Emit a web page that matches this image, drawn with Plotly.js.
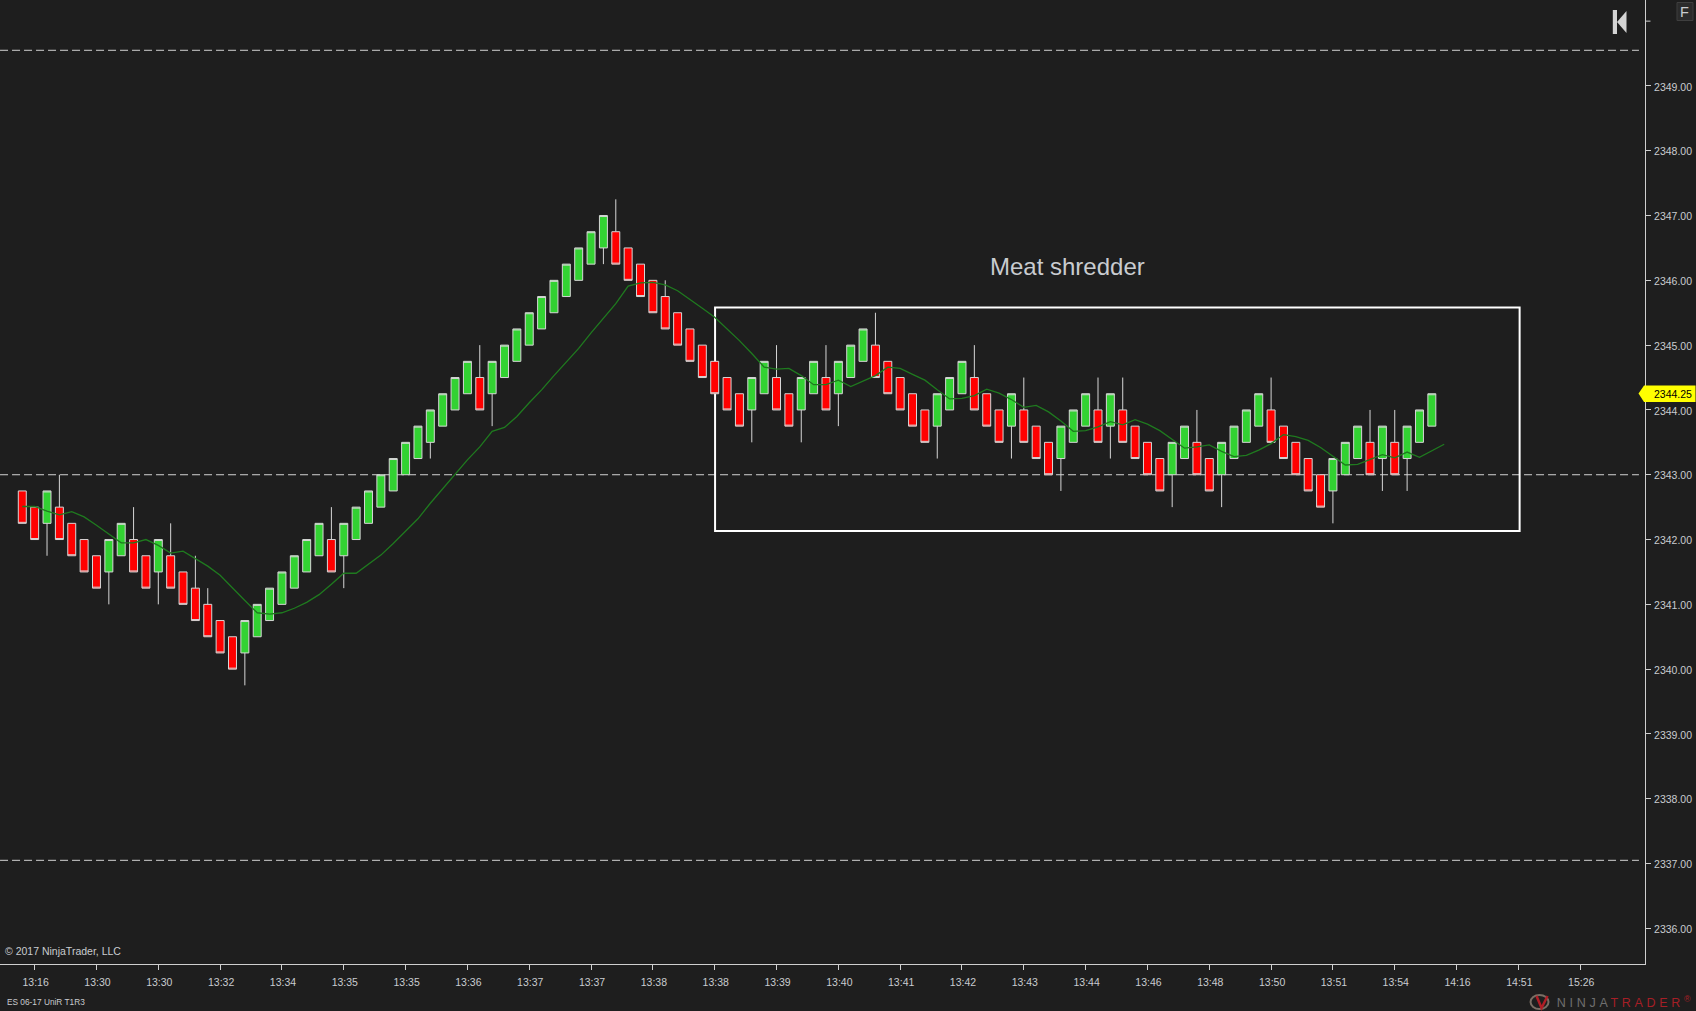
<!DOCTYPE html>
<html>
<head>
<meta charset="utf-8">
<script src="https://cdn.plot.ly/plotly-3.0.1.min.js"></script>
<style>
html,body{margin:0;padding:0;background:#1e1e1e;overflow:hidden}
#chart{width:1696px;height:1011px}
.annotation[data-index="2"] text{letter-spacing:3.7px}
</style>
</head>
<body>
<div id="chart"></div>
<script>
const barIndex = Array.from({length:115},(_, i)=>i);
const open = [
2342.75,2342.5,2342.25,2342.5,2342.25,2342,2341.75,2341.5,2341.75,2342,2341.75,2341.5,2341.75,2341.5,2341.25,2341,2340.75,2340.5,2340.25,2340.5,
2340.75,2341,2341.25,2341.5,2341.75,2342,2341.75,2342,2342.25,2342.5,2342.75,2343,2343.25,2343.5,2343.75,2344,2344.25,2344.5,2344.25,2344.5,
2344.75,2345,2345.25,2345.5,2345.75,2346,2346.25,2346.5,2346.75,2346.5,2346.25,2346,2345.75,2345.5,2345.25,2345,2344.75,2344.5,2344.25,2344,
2344.25,2344.5,2344.25,2344,2344.25,2344.5,2344.25,2344.5,2344.75,2345,2344.75,2344.5,2344.25,2344,2343.75,2344,2344.25,2344.5,2344.25,2344,
2343.75,2344,2343.75,2343.5,2343.25,2343.5,2343.75,2344,2343.75,2344,2343.75,2343.5,2343.25,2343,2343.25,2343.5,2343.25,2343,2343.25,2343.5,
2343.75,2344,2343.75,2343.5,2343.25,2343,2342.75,2343,2343.25,2343.5,2343.25,2343.5,2343.25,2343.5,2343.75];
const close = [
2342.25,2342,2342.75,2342,2341.75,2341.5,2341.25,2342,2342.25,2341.5,2341.25,2342,2341.25,2341,2340.75,2340.5,2340.25,2340,2340.75,2341,
2341.25,2341.5,2341.75,2342,2342.25,2341.5,2342.25,2342.5,2342.75,2343,2343.25,2343.5,2343.75,2344,2344.25,2344.5,2344.75,2344,2344.75,2345,
2345.25,2345.5,2345.75,2346,2346.25,2346.5,2346.75,2347,2346.25,2346,2345.75,2345.5,2345.25,2345,2344.75,2344.5,2344.25,2344,2343.75,2344.5,
2344.75,2344,2343.75,2344.5,2344.75,2344,2344.75,2345,2345.25,2344.5,2344.25,2344,2343.75,2343.5,2344.25,2344.5,2344.75,2344,2343.75,2343.5,
2344.25,2343.5,2343.25,2343,2343.75,2344,2344.25,2343.5,2344.25,2343.5,2343.25,2343,2342.75,2343.5,2343.75,2343,2342.75,2343.5,2343.75,2344,
2344.25,2343.5,2343.25,2343,2342.75,2342.5,2343.25,2343.5,2343.75,2343,2343.75,2343,2343.75,2344,2344.25];
const wickHigh = {3:2343,9:2342.5,12:2342.25,14:2341.75,15:2341.25,25:2342.5,37:2345,48:2347.25,52:2346,61:2345,65:2345,69:2345.5,77:2345,81:2344.5,87:2344.5,89:2344.5,95:2344,101:2344.5,109:2344,111:2344};
const wickLow = {2:2341.75,7:2341,11:2341,18:2339.75,26:2341.25,33:2343.25,38:2343.75,47:2346.25,59:2343.5,63:2343.5,66:2343.75,74:2343.25,80:2343.25,84:2342.75,88:2343.25,93:2342.5,97:2342.5,106:2342.25,110:2342.75,112:2342.75};
const high = open.map((o,i)=> wickHigh[i] !== undefined ? wickHigh[i] : Math.max(o,close[i]));
const low = open.map((o,i)=> wickLow[i] !== undefined ? wickLow[i] : Math.min(o,close[i]));

const smaIndex = Array.from({length:116},(_, i)=>i);
const sma = [
2342.51,2342.51,2342.44,2342.38,2342.43,2342.35,2342.22,2342.08,2341.95,2341.95,2342.00,2341.91,2341.79,2341.82,2341.70,2341.59,2341.45,2341.25,2341.06,2340.87,
2340.85,2340.87,2340.94,2341.03,2341.15,2341.31,2341.48,2341.48,2341.62,2341.76,2341.94,2342.13,2342.32,2342.56,2342.78,2343.00,2343.23,2343.43,2343.67,2343.73,
2343.90,2344.11,2344.31,2344.53,2344.74,2344.95,2345.19,2345.42,2345.64,2345.91,2345.96,2345.97,2345.93,2345.84,2345.71,2345.57,2345.43,2345.25,2345.07,2344.87,
2344.66,2344.63,2344.64,2344.53,2344.39,2344.39,2344.46,2344.36,2344.45,2344.53,2344.66,2344.64,2344.55,2344.46,2344.31,2344.17,2344.18,2344.22,2344.32,2344.26,
2344.16,2344.04,2344.07,2343.97,2343.83,2343.67,2343.68,2343.74,2343.82,2343.77,2343.85,2343.78,2343.68,2343.54,2343.41,2343.43,2343.46,2343.36,2343.28,2343.30,
2343.38,2343.48,2343.62,2343.59,2343.53,2343.42,2343.29,2343.15,2343.16,2343.23,2343.31,2343.26,2343.35,2343.27,2343.37,2343.47];

const timeTickPositions = [1,6,11,16,21,26,31,36,41,46,51,56,61,66,71,76,81,86,91,96,101,106,111,116,121,126];
const timeTickLabels = ["13:16","13:30","13:30","13:32","13:34","13:35","13:35","13:36","13:37","13:37","13:38","13:38","13:39","13:40","13:41","13:42","13:43","13:44","13:46","13:48","13:50","13:51","13:54","14:16","14:51","15:26"];
const priceTicks = [2336,2337,2338,2339,2340,2341,2342,2343,2344,2345,2346,2347,2348,2349];
const priceTickLabels = ["2336.00","2337.00","2338.00","2339.00","2340.00","2341.00","2342.00","2343.00","2344.00","2345.00","2346.00","2347.00","2348.00","2349.00"];
const unlabeledTick = 2350;
const dashedLevels = [2349.55,2343,2337.05];
const lastPrice = 2344.25;
const lastPriceLabel = "2344.25";

const BG = "#1e1e1e", AX = "#cfcfcf", TXT = "#c9ccd0", FONT = "Liberation Sans, Arial, sans-serif";
const W = 1696, H = 1011, PW = 1645.5, PH = 964;
const px = v => v / PW;
const py = v => (PH - v) / PH;

const traces = [
  {type:"candlestick", x:barIndex, open, high, low, close, whiskerwidth:0, showlegend:false, hoverinfo:"skip",
   increasing:{line:{color:"#d6d6d6",width:1}, fillcolor:"#32d232"},
   decreasing:{line:{color:"#d6d6d6",width:1}, fillcolor:"#ff0000"}},
  {type:"scatter", mode:"lines", x:smaIndex, y:sma, showlegend:false, hoverinfo:"skip",
   line:{color:"#1f7a1f",width:1.3}}
];

const shapes = dashedLevels.map(v=>({type:"line",layer:"below",xref:"x",yref:"y",x0:-1.8,x1:130.75,y0:v,y1:v,
  line:{color:"#d2d2d2",width:1,dash:"8px,4px"}}));
shapes.push({type:"rect",layer:"below",xref:"x",yref:"y",x0:56.03,x1:121.1,y0:2342.13,y1:2345.58,line:{color:"#ffffff",width:2},fillcolor:"rgba(0,0,0,0)"});
// unlabeled axis tick at the top
shapes.push({type:"line",xref:"paper",yref:"y",x0:1,x1:px(1651),y0:unlabeledTick,y1:unlabeledTick,line:{color:AX,width:1}});
// yellow price marker
shapes.push({type:"path",layer:"above",xref:"paper",yref:"paper",
  path:`M ${px(1639)} ${py(393.4)} L ${px(1644.5)} ${py(385.5)} L ${px(1696)} ${py(385.5)} L ${px(1696)} ${py(402)} L ${px(1644.5)} ${py(402)} Z`,
  fillcolor:"#ffff00",line:{width:0}});
// go-to-end button
shapes.push({type:"rect",xref:"paper",yref:"paper",x0:px(1613.3),x1:px(1617.5),y0:py(10),y1:py(34),fillcolor:"#d4d4d4",line:{width:0}});
shapes.push({type:"path",xref:"paper",yref:"paper",
  path:`M ${px(1617.5)} ${py(22)} L ${px(1627)} ${py(11)} L ${px(1627)} ${py(33)} Z`,fillcolor:"#d4d4d4",line:{width:0}});
// F box
shapes.push({type:"rect",xref:"paper",yref:"paper",x0:px(1677.5),x1:px(1693.5),y0:py(2.5),y1:py(20.5),fillcolor:"#2b2b2b",line:{color:"#3f3f3f",width:1}});
// logo
shapes.push({type:"circle",xref:"paper",yref:"paper",x0:px(1531),x1:px(1549),y0:py(995),y1:py(1009),fillcolor:"rgba(0,0,0,0)",line:{color:"#7a6e64",width:2}});
shapes.push({type:"path",xref:"paper",yref:"paper",
  path:`M ${px(1537)} ${py(996)} L ${px(1542)} ${py(1008)} L ${px(1548)} ${py(996)}`,fillcolor:"rgba(0,0,0,0)",line:{color:"#b01e26",width:2.5}});

const annotations = [
  {xref:"paper",yref:"paper",x:px(1067.5),y:py(266),text:"Meat shredder",showarrow:false,xanchor:"center",yanchor:"middle",font:{family:FONT,size:24,color:"#c9ccd0"}},
  {xref:"paper",yref:"paper",x:px(3.5),y:py(951),text:"© 2017 NinjaTrader, LLC",showarrow:false,xanchor:"left",yanchor:"middle",font:{family:FONT,size:10.5,color:TXT}},
  {xref:"paper",yref:"paper",x:px(1626),y:py(1002),text:'<span style="color:#6f6f6f">NINJA</span><span style="color:#a51f26">TRADER</span><span style="color:#a51f26"><sup>®</sup></span>',showarrow:false,xanchor:"center",yanchor:"middle",font:{family:FONT,size:12.5,color:"#6f6f6f"}},
  {xref:"paper",yref:"paper",x:px(5.5),y:py(1002),text:"ES 06-17 UniR T1R3",showarrow:false,xanchor:"left",yanchor:"middle",font:{family:FONT,size:8.3,color:TXT}},
  {xref:"paper",yref:"paper",x:px(1695),y:py(394),text:lastPriceLabel,showarrow:false,xanchor:"right",yanchor:"middle",font:{family:FONT,size:10.5,color:"#000000"}},
  {xref:"paper",yref:"paper",x:px(1685.5),y:py(12),text:"F",showarrow:false,xanchor:"center",yanchor:"middle",font:{family:FONT,size:14.5,color:"#c9ccd0"}}
];

const layout = {
  width:W, height:H,
  paper_bgcolor:BG, plot_bgcolor:BG,
  margin:{l:0,r:W-PW,t:0,b:H-PH,pad:0},
  boxgap:0.08, boxgroupgap:0.3,
  showlegend:false, dragmode:false, hovermode:false,
  font:{family:FONT,size:10.5,color:TXT},
  xaxis:{type:"linear",range:[-1.803,131.24],showgrid:false,zeroline:false,showline:true,linecolor:AX,linewidth:1,
    tickmode:"array",tickvals:timeTickPositions,ticktext:timeTickLabels,ticks:"outside",ticklen:5,tickwidth:1,tickcolor:AX,
    ticklabelstandoff:3,ticklabelshift:1,tickangle:0,tickfont:{family:FONT,size:10.5,color:TXT},rangeslider:{visible:false},fixedrange:true},
  yaxis:{type:"linear",side:"right",range:[2335.45,2350.326],showgrid:false,zeroline:false,showline:true,linecolor:AX,linewidth:1,
    tickmode:"array",tickvals:priceTicks,ticktext:priceTickLabels,ticks:"outside",ticklen:5,tickwidth:1,tickcolor:AX,
    ticklabelstandoff:1,ticklabelshift:1,tickfont:{family:FONT,size:10.5,color:TXT},fixedrange:true},
  shapes, annotations
};
Plotly.newPlot("chart",traces,layout,{displayModeBar:false,staticPlot:true});
</script>
</body>
</html>
